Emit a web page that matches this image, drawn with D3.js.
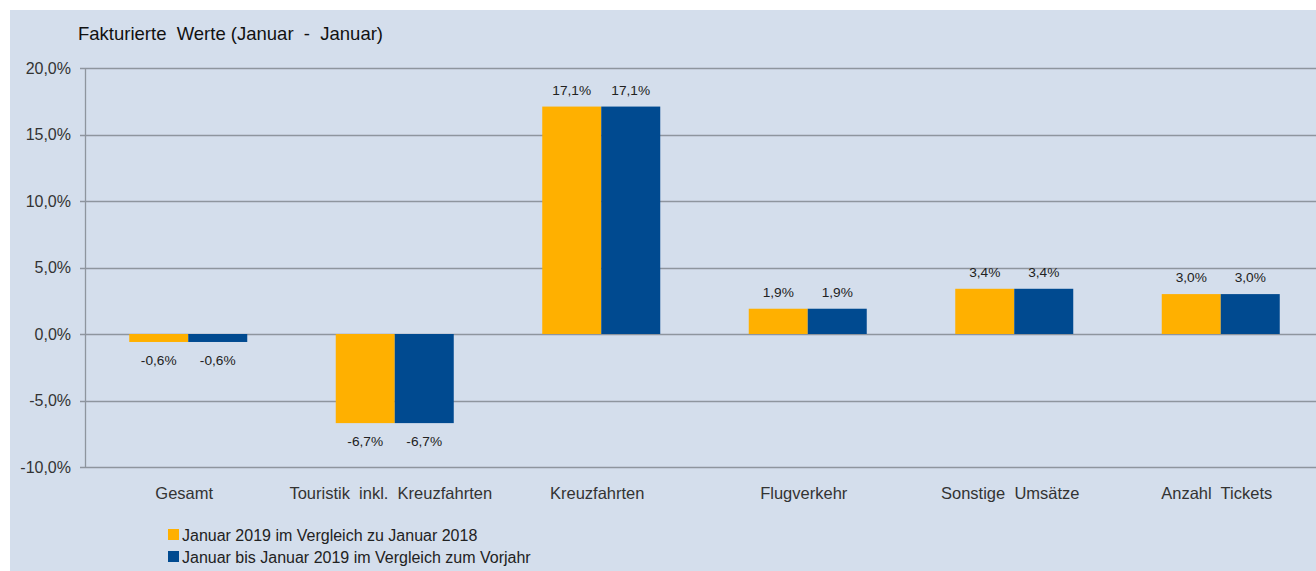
<!DOCTYPE html>
<html>
  <head>
    <meta charset="UTF-8">
    <style>
      body {
        margin: 0;
        background: white;
        font-family: Arial, "Liberation Sans", sans-serif;
      }
      svg {
        display: block;
      }
    </style>
    <script type="text/javascript" src="https://cdn.jsdelivr.net/npm/d3@7"></script>
  </head>
  <body>
    <svg id="Chart"></svg>
    <script type="text/javascript">
      const categories = ['Gesamt', 'Touristik  inkl.  Kreuzfahrten', 'Kreuzfahrten', 'Flugverkehr', 'Sonstige  Umsätze', 'Anzahl  Tickets'];
      const monthValues = [-0.6, -6.7, 17.1, 1.9, 3.4, 3.0];
      const ytdValues = [-0.6, -6.7, 17.1, 1.9, 3.4, 3.0];
      const seriesNames = ['Januar 2019 im Vergleich zu Januar 2018', 'Januar bis Januar 2019 im Vergleich zum Vorjahr'];
      const yTicks = [-10, -5, 0, 5, 10, 15, 20];
      const title = 'Fakturierte  Werte (Januar  -  Januar)';

      const colors = ['#FFB000', '#004A90'];

      function getConfig() {
        let width = 1316;
        let height = 571;
        let margin = {top: 68, bottom: 104, left: 85, right: -8};
        let container = d3.select('#Chart')
          .attr('width', width)
          .attr('height', height);
        return {width, height, margin, container};
      }

      function getScales(config) {
        let {width, height, margin} = config;
        let xScale = d3.scaleBand()
          .domain(categories)
          .range([margin.left, width - margin.right]);
        let yScale = d3.scaleLinear()
          .domain([-10, 20])
          .range([height - margin.bottom, margin.top]);
        return {xScale, yScale};
      }

      function fmt(v) {
        return d3.format('.1f')(v).replace('.', ',').replace('−', '-') + '%';
      }

      function drawBackground(config) {
        let {container, width, height} = config;
        container.append('rect')
          .attr('x', 10).attr('y', 10)
          .attr('width', width - 10).attr('height', height - 10)
          .attr('fill', '#D4DEEC');
        container.append('text')
          .attr('x', 78).attr('y', 40)
          .attr('font-size', 18.5)
          .attr('fill', '#111')
          .style('white-space', 'pre')
          .text(title);
      }

      function drawAxes(scales, config) {
        let {xScale, yScale} = scales;
        let {container, margin, width} = config;

        // gridlines
        container.append('g')
          .selectAll('line')
          .data(yTicks)
          .enter()
          .append('line')
          .attr('x1', margin.left - 5)
          .attr('x2', width)
          .attr('y1', d => Math.round(yScale(d)) + 0.5)
          .attr('y2', d => Math.round(yScale(d)) + 0.5)
          .attr('stroke', '#8E959E')
          .attr('stroke-width', 1.3);

        container.append('line')
          .attr('x1', margin.left + 0.5).attr('x2', margin.left + 0.5)
          .attr('y1', yScale(20)).attr('y2', yScale(-10))
          .attr('stroke', '#8E959E')
          .attr('stroke-width', 1.3);

        container.append('g')
          .selectAll('text')
          .data(yTicks)
          .enter()
          .append('text')
          .attr('x', 71)
          .attr('y', d => yScale(d) + 5.5)
          .attr('text-anchor', 'end')
          .attr('font-size', 16)
          .attr('fill', '#333')
          .text(d => fmt(d));

        container.append('g')
          .selectAll('text')
          .data(categories)
          .enter()
          .append('text')
          .attr('x', d => xScale(d) + xScale.bandwidth() / 2 - 4)
          .attr('y', yScale(-10) + 32)
          .attr('text-anchor', 'middle')
          .attr('font-size', 16.5)
          .attr('fill', '#333')
          .style('white-space', 'pre')
          .text(d => d);
      }

      function drawBars(scales, config) {
        let {xScale, yScale} = scales;
        let {container} = config;
        let inner = d3.scaleBand()
          .domain([0, 1])
          .range([0, xScale.bandwidth()])
          .paddingOuter(0.75)
          .paddingInner(0);

        [monthValues, ytdValues].forEach((values, s) => {
          let rows = categories.map((c, i) => ({c, v: values[i]}));
          let g = container.append('g');
          g.selectAll('rect')
            .data(rows)
            .enter()
            .append('rect')
            .attr('x', d => xScale(d.c) + inner(s))
            .attr('width', inner.bandwidth())
            .attr('y', d => yScale(Math.max(0, d.v)))
            .attr('height', d => Math.abs(yScale(d.v) - yScale(0)))
            .attr('fill', colors[s]);
          g.selectAll('text')
            .data(rows)
            .enter()
            .append('text')
            .attr('x', d => xScale(d.c) + inner(s) + inner.bandwidth() / 2)
            .attr('y', d => d.v >= 0 ? yScale(d.v) - 12 : yScale(d.v) + 23)
            .attr('text-anchor', 'middle')
            .attr('font-size', 13.7)
            .attr('fill', '#222')
            .text(d => fmt(d.v));
        });
      }

      function drawLegend(config) {
        let {container} = config;
        let items = seriesNames.map((n, i) => ({n, i}));
        let g = container.append('g')
          .selectAll('g')
          .data(items)
          .enter()
          .append('g')
          .attr('transform', d => `translate(168, ${529 + d.i * 22})`);
        g.append('rect')
          .attr('width', 11).attr('height', 11)
          .attr('fill', d => colors[d.i]);
        g.append('text')
          .attr('x', 14).attr('y', 11.5)
          .attr('font-size', 16)
          .attr('fill', '#222')
          .text(d => d.n);
      }

      let config = getConfig();
      let scales = getScales(config);
      drawBackground(config);
      drawAxes(scales, config);
      drawBars(scales, config);
      drawLegend(config);
    </script>
  </body>
</html>
